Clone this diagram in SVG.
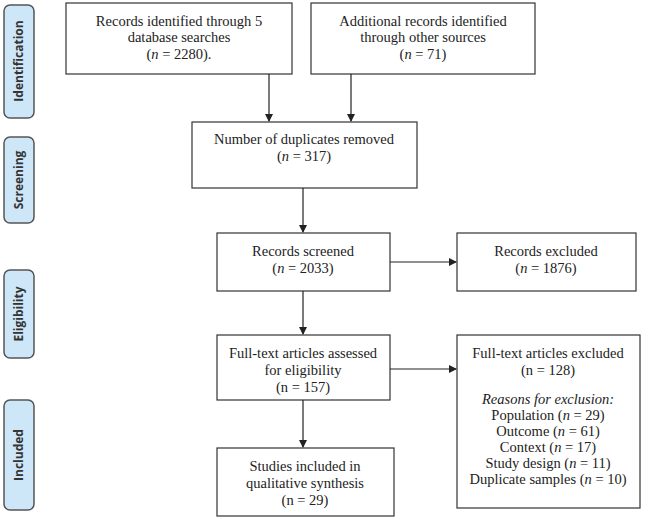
<svg xmlns="http://www.w3.org/2000/svg" width="666" height="519" viewBox="0 0 666 519">
<defs>
<marker id="ah" markerWidth="8" markerHeight="8" refX="7" refY="4" orient="auto" markerUnits="userSpaceOnUse"><path d="M0,0 L8,4 L0,8 Z" fill="#222"/></marker>
<style>
.b{fill:#fff;stroke:#333;stroke-width:1.2}
.s{fill:#cde6f8;stroke:#555;stroke-width:1.5}
.t{font-family:"Liberation Serif",serif;font-size:14.5px;fill:#222;text-anchor:middle}
.l{font-family:"Open Sans","DejaVu Sans",sans-serif;font-size:12px;font-weight:bold;fill:#333;text-anchor:middle}
.c{stroke:#222;stroke-width:1.2;fill:none;marker-end:url(#ah)}
</style>
</defs>
<rect width="666" height="519" fill="#fff"/>
<g id="stage-identification"><rect class="s" x="4" y="5" width="30" height="113" rx="6"/><text class="l" transform="translate(23,61) rotate(-90)">Identification</text></g>
<g id="stage-screening"><rect class="s" x="4" y="137" width="30" height="86" rx="6"/><text class="l" transform="translate(23,180) rotate(-90)">Screening</text></g>
<g id="stage-eligibility"><rect class="s" x="4" y="270" width="30" height="88" rx="6"/><text class="l" transform="translate(23,314) rotate(-90)">Eligibility</text></g>
<g id="stage-included"><rect class="s" x="4" y="400" width="30" height="110" rx="6"/><text class="l" transform="translate(23,455) rotate(-90)">Included</text></g>

<g id="n1"><rect class="b" x="66" y="3" width="226" height="71"/><text class="t" x="179" y="26">Records identified through 5</text><text class="t" x="179" y="42">database searches</text><text class="t" x="179" y="59">(<tspan font-style="italic">n</tspan> = 2280).</text></g>
<g id="n2"><rect class="b" x="311" y="3" width="224" height="71"/><text class="t" x="423" y="26">Additional records identified</text><text class="t" x="423" y="42">through other sources</text><text class="t" x="423" y="59">(<tspan font-style="italic">n</tspan> = 71)</text></g>
<g id="n3"><rect class="b" x="192" y="122" width="225" height="66"/><text class="t" x="304" y="144">Number of duplicates removed</text><text class="t" x="304" y="161">(<tspan font-style="italic">n</tspan> = 317)</text></g>
<g id="n4"><rect class="b" x="217" y="233" width="173" height="58"/><text class="t" x="303" y="256">Records screened</text><text class="t" x="303" y="273">(<tspan font-style="italic">n</tspan> = 2033)</text></g>
<g id="n5"><rect class="b" x="457" y="233" width="179" height="58"/><text class="t" x="546" y="256">Records excluded</text><text class="t" x="546" y="273">(<tspan font-style="italic">n</tspan> = 1876)</text></g>
<g id="n6"><rect class="b" x="217" y="335" width="173" height="65"/><text class="t" x="303" y="358">Full-text articles assessed</text><text class="t" x="303" y="375">for eligibility</text><text class="t" x="303" y="392">(n = 157)</text></g>
<g id="n7"><rect class="b" x="457" y="335" width="183" height="173"/><text class="t" x="548" y="358">Full-text articles excluded</text><text class="t" x="548" y="375">(n = 128)</text><text class="t" x="548" y="404" font-style="italic">Reasons for exclusion:</text><text class="t" x="548" y="420">Population (<tspan font-style="italic">n</tspan> = 29)</text><text class="t" x="548" y="436">Outcome (<tspan font-style="italic">n</tspan> = 61)</text><text class="t" x="548" y="452">Context (<tspan font-style="italic">n</tspan> = 17)</text><text class="t" x="548" y="468">Study design (<tspan font-style="italic">n</tspan> = 11)</text><text class="t" x="548" y="484">Duplicate samples (<tspan font-style="italic">n</tspan> = 10)</text></g>
<g id="n8"><rect class="b" x="217" y="448" width="177" height="68"/><text class="t" x="305" y="471">Studies included in</text><text class="t" x="305" y="488">qualitative synthesis</text><text class="t" x="305" y="505">(n = 29)</text></g>

<g id="connectors">
<line class="c" x1="269" y1="74" x2="269" y2="121"/>
<line class="c" x1="351" y1="74" x2="351" y2="121"/>
<line class="c" x1="303" y1="188" x2="303" y2="232"/>
<line class="c" x1="390" y1="262" x2="456" y2="262"/>
<line class="c" x1="303" y1="291" x2="303" y2="334"/>
<line class="c" x1="390" y1="369" x2="456" y2="369"/>
<line class="c" x1="303" y1="400" x2="303" y2="447"/>
</g>
</svg>
